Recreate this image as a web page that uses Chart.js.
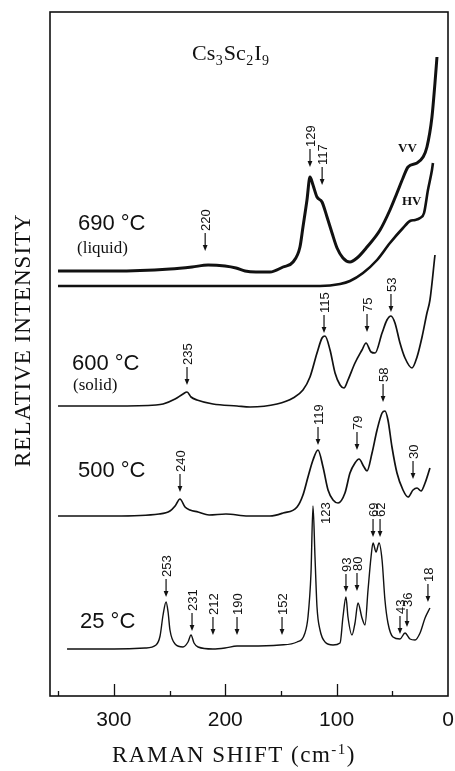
<!DOCTYPE html>
<html>
<head>
<meta charset="utf-8">
<script src="https://cdn.jsdelivr.net/npm/chart.js@4.4.1/dist/chart.umd.min.js"></script>
<style>
  html, body { margin: 0; padding: 0; background: #fff; }
  canvas { display: block; }
</style>
</head>
<body>
<canvas id="ramanChart" width="455" height="771"></canvas>
<script>
// Raman spectra of Cs3Sc2I9, offsets kept as drawn (relative intensity, arbitrary units)

const shift25 = [342, 299.8, 272, 262.1, 258.5, 255.8, 253.1, 251.3, 249.6, 245, 237.9, 233.4, 230.7, 228, 224.4, 211, 200.2, 189.4, 177.7, 150.8, 135.5, 128.4, 125.7, 123, 121.2, 119.4, 117.6, 114.9, 110.4, 103.2, 96.9, 94.3, 91.6, 89.8, 86.2, 83.5, 80.8, 77.2, 74.5, 71.8, 69.1, 67.3, 64.6, 61.9, 59.2, 56.6, 53.9, 49.4, 43.1, 38.6, 34.1, 29.6, 25.1, 20.6, 16.2];
const int25 = [47, 47, 48, 51, 60, 81, 94, 84, 66, 52, 49, 54, 61, 53, 49, 47, 48, 50, 50, 51, 54, 63, 79, 123, 190, 139, 89, 66, 54, 51, 53, 79, 99, 79, 61, 73, 93, 78, 71, 106, 139, 153, 144, 153, 136, 96, 73, 59, 57, 63, 57, 56, 63, 78, 88];

const shift500 = [350.1, 299.8, 259.4, 249.6, 245, 240.6, 236.1, 231.6, 224.4, 214.5, 199.3, 179.5, 159.8, 148.1, 135.5, 130.2, 125.7, 121.2, 116.7, 112.2, 107.7, 103.2, 98.7, 92.5, 88, 83.5, 79.9, 75.4, 72.7, 68.2, 63.7, 59.2, 56.6, 53.9, 50.3, 45.8, 40.4, 35.9, 31.4, 27.8, 24.2, 20.6, 16.2];
const int500 = [180, 180, 182, 185, 190, 197, 189, 186, 184, 181, 182, 180, 180, 183, 189, 201, 219, 236, 246, 229, 206, 196, 193, 203, 223, 233, 237, 229, 225, 243, 266, 283, 285, 276, 249, 223, 206, 199, 206, 208, 205, 213, 228];

const shift600 = [350.1, 299.8, 262.1, 255.8, 245, 237.9, 234.3, 230.7, 225.3, 211, 189.4, 177.7, 153.5, 139.1, 130.2, 123.9, 117.6, 113.1, 110.4, 105.9, 101.4, 96.9, 93.4, 89.8, 83.5, 77.2, 73.6, 69.1, 65.5, 59.2, 54.8, 51.2, 47.6, 43.1, 38.6, 32.3, 27.8, 23.3, 18.9, 16.2, 11.7];
const int600 = [290, 290, 291, 292, 297, 302, 304, 299, 296, 292, 290, 289, 292, 298, 306, 319, 343, 358, 360, 346, 323, 311, 308, 316, 333, 346, 353, 344, 343, 363, 376, 380, 373, 353, 338, 328, 339, 359, 383, 396, 441];

// 690 °C melt, two polarisations
const shift690vv = [350.1, 299.8, 249.6, 229.8, 215.4, 200.2, 190.3, 182.2, 172.4, 159.8, 148.1, 139.1, 132.9, 130.2, 126.6, 123.9, 121.2, 117.6, 113.1, 108.6, 104.1, 99.6, 94.3, 88, 81.7, 72.7, 61, 52.1, 45.8, 40.4, 35.9, 27.8, 22.4, 18.9, 14.4, 11.7, 9.9];
const int690vv = [425, 425, 427, 429, 431, 430, 428, 425, 424, 424, 429, 434, 449, 469, 496, 519, 511, 499, 494, 479, 463, 448, 438, 434, 438, 449, 466, 486, 503, 518, 529, 533, 539, 549, 579, 613, 639];

const shift690hv = [350.1, 222.6, 114.9, 96.9, 88, 76.3, 63.7, 52.1, 40.4, 34.1, 29.6, 25.1, 21.5, 18, 14.4, 13.5];
const int690hv = [410, 410, 410, 412, 415, 423, 436, 453, 468, 475, 476, 478, 483, 506, 526, 533];

// peak marks: where the arrow points, and its label
const markShift  = [253.1, 229.8, 211, 189.4, 149, 110.4, 91.6, 81.7, 67.3, 61, 43.1, 36.8, 18,
                    240.6, 116.7, 81.7, 58.3, 31.4,
                    234.3, 111.3, 72.7, 51.2,
                    218, 123.9, 113];
const markHeight = [99, 65, 61, 61, 61, 172, 104, 105, 159, 159, 62, 69, 94,
                    204, 251, 246, 294, 217,
                    311, 363, 364, 384,
                    445, 529, 511];
const markText   = ['253', '231', '212', '190', '152', '123', '93', '80', '69', '62', '43', '36', '18',
                    '240', '119', '79', '58', '30',
                    '235', '115', '75', '53',
                    '220', '129', '117'];
const markArrow  = [true, true, true, true, true, false, true, true, true, true, true, true, true,
                    true, true, true, true, true,
                    true, true, true, true,
                    true, true, true];

const tempText = ['690 °C', '600 °C', '500 °C', '25 °C'];
const phaseText = ['(liquid)', '(solid)'];
const polText = ['VV', 'HV'];
const formulaParts = ['Cs', '3', 'Sc', '2', 'I', '9'];
const xTickValues = [0, 50, 100, 150, 200, 250, 300, 350];

const ink = '#111';
const serif = '"Liberation Serif", "Times New Roman", serif';
const sans = '"Liberation Sans", Arial, sans-serif';

function pts(xs, ys) {
  return xs.map((x, i) => ({ x: x, y: ys[i] }));
}

function drawRotated(ctx, text, x, y) {
  ctx.save();
  ctx.translate(x, y);
  ctx.rotate(-Math.PI / 2);
  ctx.fillText(text, 0, 0);
  ctx.restore();
}

const ramanDecor = {
  id: 'ramanDecor',
  afterDraw(chart) {
    const ctx = chart.ctx;
    const a = chart.chartArea;
    const xs = chart.scales.x;
    const ys = chart.scales.y;
    ctx.save();
    ctx.strokeStyle = ink;
    ctx.fillStyle = ink;

    // frame
    ctx.lineWidth = 1.6;
    ctx.strokeRect(a.left, a.top, a.right - a.left, a.bottom - a.top);

    // ticks pointing into the plot
    ctx.lineWidth = 1.3;
    xTickValues.forEach(v => {
      if (v === 0) return;
      const px = Math.round(xs.getPixelForValue(v)) + 0.5;
      const len = v % 100 === 0 ? 12 : 5;
      ctx.beginPath();
      ctx.moveTo(px, a.bottom);
      ctx.lineTo(px, a.bottom - len);
      ctx.stroke();
    });

    // peak marks
    ctx.font = '13px ' + sans;
    ctx.textAlign = 'left';
    ctx.textBaseline = 'middle';
    ctx.lineWidth = 1.2;
    markText.forEach((t, i) => {
      const px = xs.getPixelForValue(markShift[i]);
      const py = ys.getPixelForValue(markHeight[i]);
      let ty = py;
      if (markArrow[i]) {
        ctx.beginPath();
        ctx.moveTo(px, py - 4);
        ctx.lineTo(px, py - 18);
        ctx.stroke();
        ctx.beginPath();
        ctx.moveTo(px, py);
        ctx.lineTo(px - 2.4, py - 6);
        ctx.lineTo(px + 2.4, py - 6);
        ctx.closePath();
        ctx.fill();
        ty = py - 20;
      }
      drawRotated(ctx, t, px + 1, ty);
    });

    // formula title
    let fx = 192;
    const fy = 60;
    ctx.textBaseline = 'alphabetic';
    formulaParts.forEach((p, i) => {
      const sub = i % 2 === 1;
      ctx.font = (sub ? '14px ' : '22px ') + serif;
      ctx.fillText(p, fx, sub ? fy + 5 : fy);
      fx += ctx.measureText(p).width + (sub ? 1 : 0.5);
    });

    // temperature labels
    ctx.font = '22px ' + sans;
    const tempPos = [[78, 230], [72, 370], [78, 477], [80, 628]];
    tempText.forEach((t, i) => {
      ctx.fillText(t, tempPos[i][0], tempPos[i][1]);
    });
    ctx.font = '17px ' + serif;
    const phasePos = [[77, 253], [73, 390]];
    phaseText.forEach((t, i) => {
      ctx.fillText(t, phasePos[i][0], phasePos[i][1]);
    });

    // polarisation tags
    ctx.font = 'bold 13px ' + serif;
    const polPos = [[398, 152], [402, 205]];
    polText.forEach((t, i) => {
      ctx.fillText(t, polPos[i][0], polPos[i][1]);
    });

    // axis titles
    ctx.font = '23px ' + serif;
    ctx.letterSpacing = '1.5px';
    let tx = 112;
    const tyb = 762;
    ['RAMAN', ' SHIFT', ' (cm'].forEach(s => {
      ctx.fillText(s, tx, tyb);
      tx += ctx.measureText(s).width;
    });
    ctx.font = '15px ' + serif;
    ctx.fillText('-1', tx, tyb - 8);
    tx += ctx.measureText('-1').width;
    ctx.font = '23px ' + serif;
    ctx.fillText(')', tx, tyb);

    ctx.letterSpacing = '1px';
    drawRotated(ctx, 'RELATIVE INTENSITY', 30, 467);
    ctx.restore();
  }
};

const lineStyle = {
  borderColor: ink,
  pointRadius: 0,
  fill: false,
  cubicInterpolationMode: 'monotone'
};

const config = {
  type: 'line',
  data: {
    datasets: [
      { ...lineStyle, label: '25 °C', data: pts(shift25, int25), borderWidth: 1.4 },
      { ...lineStyle, label: '500 °C', data: pts(shift500, int500), borderWidth: 1.7 },
      { ...lineStyle, label: '600 °C', data: pts(shift600, int600), borderWidth: 1.7 },
      { ...lineStyle, label: '690 °C VV', data: pts(shift690vv, int690vv), borderWidth: 3 },
      { ...lineStyle, label: '690 °C HV', data: pts(shift690hv, int690hv), borderWidth: 2.6 }
    ]
  },
  options: {
    responsive: false,
    animation: false,
    layout: { padding: { left: 50, right: 7, top: 12, bottom: 0 } },
    plugins: {
      legend: { display: false },
      tooltip: { enabled: false }
    },
    scales: {
      x: {
        type: 'linear',
        reverse: true,
        min: 0,
        max: 357.3,
        afterBuildTicks: s => { s.ticks = xTickValues.map(v => ({ value: v })); },
        afterFit: s => { s.height = 75; },
        grid: { display: false, drawTicks: false },
        border: { display: false },
        ticks: {
          autoSkip: false,
          maxRotation: 0,
          padding: 12,
          color: ink,
          font: { size: 21, family: sans },
          callback: v => (v % 100 === 0 ? String(v) : '')
        }
      },
      y: {
        display: false,
        min: 0,
        max: 684
      }
    }
  },
  plugins: [ramanDecor]
};

const chart = new Chart(document.getElementById('ramanChart'), config);
</script>
</body>
</html>
